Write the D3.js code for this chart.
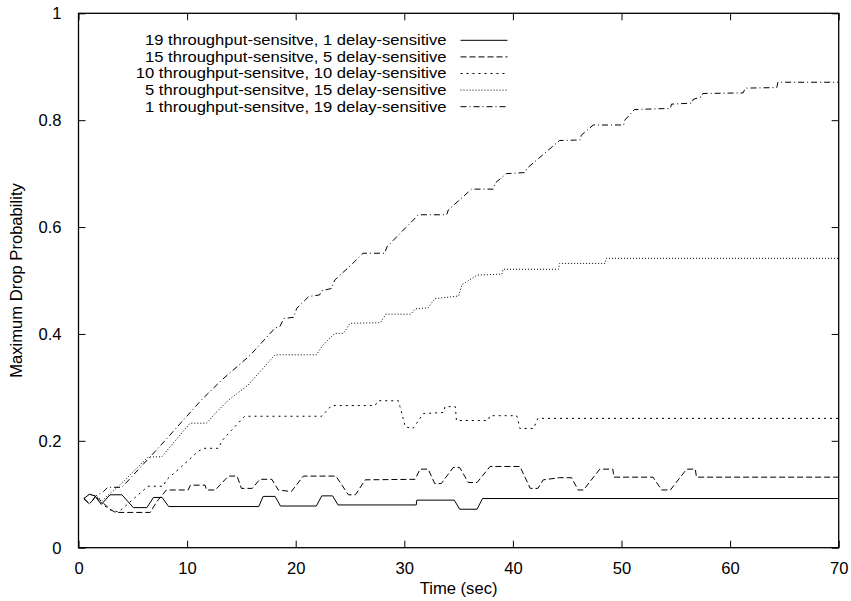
<!DOCTYPE html>
<html>
<head>
<meta charset="utf-8">
<script src="https://cdn.jsdelivr.net/npm/d3@7"></script>
<style>
  body { margin: 0; background: #fff; }
  text { font-family: "Liberation Sans", Arial, Helvetica, sans-serif; fill: #000; }
</style>
</head>
<body>
<div id="chart"></div>
<script>

// legend labels, same order as the series below
var labels = [
  "19 throughput-sensitve, 1 delay-sensitive",
  "15 throughput-sensitve, 5 delay-sensitive",
  "10 throughput-sensitve, 10 delay-sensitive",
  "5 throughput-sensitve, 15 delay-sensitive",
  "1 throughput-sensitve, 19 delay-sensitive"
];

// [time (sec), max drop probability]
var tp19 = [[0.5,0.092],[1.0,0.100],[1.5,0.097],[2.1,0.081],[2.9,0.099],[4.0,0.099],[5.05,0.075],[6.3,0.075],
  [6.9,0.094],[7.7,0.094],[8.3,0.077],[16.6,0.077],[17.0,0.096],[18.1,0.096],[18.6,0.078],[21.9,0.078],
  [22.4,0.097],[23.4,0.097],[23.9,0.080],[31.1,0.080],[31.15,0.089],[34.6,0.089],[35.1,0.072],[36.7,0.072],
  [37.2,0.092],[70,0.092]];

var tp15 = [[0.5,0.092],[1.0,0.082],[1.6,0.095],[2.2,0.085],[2.9,0.072],[3.4,0.066],[6.6,0.066],[7.2,0.086],
  [8.1,0.108],[10.1,0.108],[10.3,0.117],[11.65,0.117],[11.8,0.108],[12.6,0.108],[13.8,0.134],[14.6,0.134],
  [15.0,0.111],[16.0,0.111],[16.7,0.128],[17.8,0.128],[18.4,0.108],[19.6,0.105],[20.7,0.134],[23.7,0.134],
  [24.85,0.099],[25.5,0.099],[26.4,0.127],[31.0,0.128],[31.45,0.147],[32.2,0.147],[32.8,0.120],[33.4,0.120],
  [34.5,0.150],[35.1,0.150],[35.9,0.122],[36.7,0.122],[37.9,0.152],[40.65,0.152],[41.6,0.111],[42.3,0.111],
  [42.8,0.127],[44.3,0.131],[45.4,0.131],[46.0,0.108],[46.5,0.108],[48.0,0.147],[49.2,0.147],[49.3,0.132],
  [52.9,0.132],[53.7,0.108],[54.5,0.108],[56.0,0.147],[56.8,0.147],[56.9,0.132],[70,0.132]];

var tp10 = [[0.5,0.092],[1.0,0.082],[1.6,0.095],[2.3,0.080],[3.0,0.070],[3.7,0.067],[6.4,0.115],[7.8,0.115],
  [8.1,0.127],[9.5,0.152],[11.0,0.180],[11.5,0.186],[12.9,0.186],[13.2,0.200],[14.1,0.220],[15.3,0.246],
  [22.4,0.246],[23.3,0.266],[27.3,0.266],[27.6,0.275],[29.45,0.275],[29.6,0.264],[30.1,0.226],[30.8,0.223],
  [31.75,0.251],[33.6,0.253],[33.75,0.264],[34.7,0.264],[34.8,0.238],[37.7,0.238],[37.9,0.247],[40.35,0.247],
  [40.65,0.223],[41.9,0.223],[42.3,0.242],[70,0.242]];

var tp5 = [[0.5,0.092],[1.0,0.100],[1.6,0.097],[2.2,0.088],[2.8,0.100],[3.3,0.108],[4.2,0.125],[6.4,0.170],
  [7.66,0.170],[10.27,0.233],[11.8,0.233],[12.57,0.251],[13.8,0.276],[15.6,0.304],[16.56,0.326],[18.1,0.361],
  [21.9,0.361],[22.5,0.379],[23.6,0.401],[24.4,0.401],[25.0,0.420],[27.8,0.421],[28.3,0.437],[30.6,0.437],
  [31.0,0.447],[32.2,0.449],[32.8,0.466],[35.0,0.471],[35.3,0.492],[36.7,0.510],[39.0,0.512],[39.1,0.521],
  [44.2,0.521],[44.3,0.532],[48.5,0.532],[48.6,0.5415],[70,0.5415]];

var tp1 = [[0.5,0.092],[1.0,0.082],[1.6,0.097],[2.3,0.105],[2.7,0.113],[4.0,0.113],[7.5,0.190],[11.3,0.276],
  [13.2,0.314],[15.8,0.360],[18.1,0.411],[18.55,0.414],[18.9,0.429],[19.8,0.431],[20.1,0.448],[21.2,0.470],
  [22.2,0.473],[22.4,0.481],[23.3,0.485],[23.6,0.501],[25.0,0.527],[26.2,0.551],[28.2,0.551],[28.4,0.563],
  [31.3,0.623],[33.9,0.623],[34.05,0.632],[36.2,0.671],[38.2,0.671],[38.35,0.682],[39.4,0.700],[41.1,0.702],
  [41.3,0.710],[44.3,0.762],[46.2,0.763],[46.3,0.772],[47.4,0.791],[50.2,0.791],[50.3,0.800],[51.2,0.820],
  [54.5,0.822],[54.6,0.830],[56.5,0.832],[56.6,0.839],[57.4,0.844],[57.5,0.850],[61.2,0.851],[61.4,0.860],
  [64.3,0.861],[64.4,0.871],[70,0.871]];

var xTicks = [0, 10, 20, 30, 40, 50, 60, 70];
var yTicks = [0, 0.2, 0.4, 0.6, 0.8, 1];

var allSeries = [tp19, tp15, tp10, tp5, tp1];
// gnuplot-ish line types: solid, dashed, dotted, fine dotted, dash-dot
var dashes = ["none", "6,3", "2,4", "1,2", "6,3,1,3"];

var W = 851, H = 601;
var margin = { top: 13.3, right: 12.3, bottom: 53.3, left: 78.5 };
var width = W - margin.left - margin.right,
    height = H - margin.top - margin.bottom;
var fontSize = "16.6px";

var svg = d3.select("#chart").append("svg")
  .attr("width", W)
  .attr("height", H)
  .append("g")
  .attr("transform", "translate(" + margin.left + "," + margin.top + ")");

var x = d3.scaleLinear().domain([0, 70]).range([0, width]);
var y = d3.scaleLinear().domain([0, 1]).range([height, 0]);

// axes with inward ticks, mirrored on top and right
var tickLen = 7;
svg.append("g")
  .attr("class", "x-axis")
  .attr("transform", "translate(0," + height + ")")
  .call(d3.axisBottom(x).tickValues(xTicks).tickSize(-tickLen).tickPadding(tickLen + 8).tickFormat(d3.format("d")));
svg.append("g")
  .attr("class", "x-axis-top")
  .call(d3.axisTop(x).tickValues(xTicks).tickSize(-tickLen).tickFormat(""));
svg.append("g")
  .attr("class", "y-axis")
  .call(d3.axisLeft(y).tickValues(yTicks).tickSize(-tickLen).tickPadding(tickLen + 10).tickFormat(function (d) { return d3.format("")(d); }));
svg.append("g")
  .attr("class", "y-axis-right")
  .attr("transform", "translate(" + width + ",0)")
  .call(d3.axisRight(y).tickValues(yTicks).tickSize(-tickLen).tickFormat(""));

svg.selectAll(".domain").remove();
svg.selectAll(".tick line").attr("stroke", "#000").attr("stroke-width", 1);
svg.selectAll(".tick text").style("font-size", fontSize).attr("fill", "#000");

// frame
svg.append("rect")
  .attr("width", width)
  .attr("height", height)
  .attr("fill", "none")
  .attr("stroke", "#000")
  .attr("stroke-width", 1.3);

// axis titles
svg.append("text")
  .attr("x", width / 2)
  .attr("y", height + 46)
  .attr("text-anchor", "middle")
  .style("font-size", fontSize)
  .text("Time (sec)");

svg.append("text")
  .attr("transform", "translate(" + (-57) + "," + (height / 2) + ") rotate(-90)")
  .attr("text-anchor", "middle")
  .style("font-size", fontSize)
  .text("Maximum Drop Probability");

// lines
var line = d3.line()
  .x(function (d) { return x(d[0]); })
  .y(function (d) { return y(d[1]); });

svg.selectAll(".series")
  .data(allSeries)
  .enter().append("path")
  .attr("class", "series")
  .attr("d", line)
  .attr("fill", "none")
  .attr("stroke", "#000")
  .attr("stroke-width", 1)
  .attr("stroke-dasharray", function (d, i) { return dashes[i]; });

// legend, top left inside the frame
// rows sit close together, so the text is a bit smaller and stretched to the original width
var legendFont = 14.2, legendStretch = 16.6 / 14.2;
var legend = svg.append("g").attr("transform", "translate(0,27)");
labels.forEach(function (lab, i) {
  var row = legend.append("g").attr("transform", "translate(0," + (i * 16.6) + ")");
  var t = row.append("text")
    .attr("x", 368)
    .attr("dy", "0.35em")
    .attr("text-anchor", "end")
    .style("font-size", legendFont + "px")
    .text(lab);
  var len = t.node().getComputedTextLength();
  t.attr("textLength", len * legendStretch)
    .attr("lengthAdjust", "spacingAndGlyphs");
  row.append("line")
    .attr("x1", 382).attr("x2", 429)
    .attr("stroke", "#000")
    .attr("stroke-width", 1)
    .attr("stroke-dasharray", dashes[i]);
});

</script>
</body>
</html>
